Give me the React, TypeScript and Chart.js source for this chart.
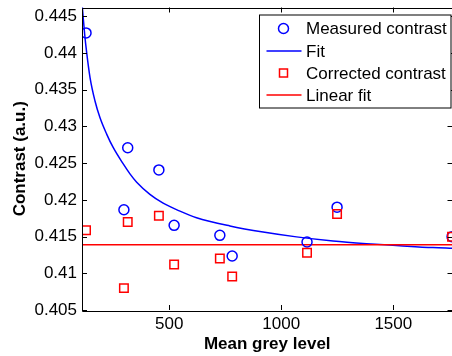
import React, { useEffect, useRef } from 'react';
import { Chart, registerables } from 'chart.js';

Chart.register(...registerables);

// ---- data ----
const pointX = [129, 298, 315, 454, 522, 726, 781, 1115, 1249, 1762];
const measuredY = [0.44274, 0.41865, 0.4271, 0.42408, 0.41653, 0.41517, 0.41236, 0.41426, 0.41901, 0.41499];
const correctedY = [0.41585, 0.40798, 0.41697, 0.41784, 0.4112, 0.41201, 0.40957, 0.41279, 0.41806, 0.41499];

const fitX = [112, 123, 132, 147, 169, 191, 221, 250, 295, 325, 355, 414, 473, 548, 622, 771, 919, 1068, 1231, 1380, 1528, 1677, 1764];
const fitY = [0.4464, 0.44252, 0.44002, 0.43663, 0.43347, 0.43121, 0.42896, 0.42714, 0.42489, 0.42354, 0.4224, 0.42075, 0.41955, 0.41846, 0.41757, 0.41645, 0.41562, 0.41496, 0.4144, 0.41404, 0.41376, 0.4135, 0.4134];

const linearX = [111, 1764];
const linearY = [0.41388, 0.41388];

const xTicks = [500, 1000, 1500];
const yTicks = [0.405, 0.41, 0.415, 0.42, 0.425, 0.43, 0.435, 0.44, 0.445];

const X_MIN = 111;
const X_MAX = 1764;
const Y_MIN = 0.405;
const Y_MAX = 0.4462;

const labels = ['Measured contrast', 'Fit', 'Corrected contrast', 'Linear fit'];

const FONT = "'Liberation Sans', Arial, Helvetica, sans-serif";

const zip = (xs: number[], ys: number[]) => xs.map((x, i) => ({ x, y: ys[i] }));

const frameTicksPlugin = {
  id: 'frameTicks',
  afterDatasetsDraw(chart: any) {
    const { ctx, chartArea, scales } = chart;
    const { left, right, top, bottom } = chartArea;
    const L = 5;
    ctx.save();
    ctx.strokeStyle = '#000';
    ctx.lineWidth = 1;
    ctx.beginPath();
    ctx.rect(Math.round(left) + 0.5, Math.round(top) + 0.5, Math.round(right - left), Math.round(bottom - top));
    ctx.stroke();
    ctx.beginPath();
    for (const v of xTicks) {
      const px = Math.round(scales.x.getPixelForValue(v)) + 0.5;
      ctx.moveTo(px, bottom);
      ctx.lineTo(px, bottom - L);
      ctx.moveTo(px, top);
      ctx.lineTo(px, top + L);
    }
    for (const v of yTicks) {
      const py = Math.round(scales.y.getPixelForValue(v)) + 0.5;
      ctx.moveTo(left, py);
      ctx.lineTo(left + L, py);
      ctx.moveTo(right, py);
      ctx.lineTo(right - L, py);
    }
    ctx.stroke();
    ctx.restore();
  },
};

const boxLegendPlugin = {
  id: 'boxLegend',
  afterDraw(chart: any) {
    const { ctx, chartArea } = chart;
    const bx1 = chartArea.right - 1.5;
    const bx0 = 259.5;
    const by0 = chartArea.top + 7.5;
    const by1 = by0 + 93;
    ctx.save();
    ctx.fillStyle = '#fff';
    ctx.fillRect(bx0, by0, bx1 - bx0, by1 - by0);
    ctx.strokeStyle = '#000';
    ctx.lineWidth = 1;
    ctx.strokeRect(bx0, by0, bx1 - bx0, by1 - by0);
    const rowY = [by0 + 13.5, by0 + 36, by0 + 58, by0 + 80];
    const lx0 = 266.5;
    const lx1 = 301.5;
    const mx = 283.5;
    chart.data.datasets.forEach((ds: any, i: number) => {
      const y = rowY[i];
      ctx.strokeStyle = ds.borderColor;
      ctx.lineWidth = 1.5;
      if (ds.showLine) {
        ctx.beginPath();
        ctx.moveTo(lx0, y);
        ctx.lineTo(lx1, y);
        ctx.stroke();
      } else if (ds.pointStyle === 'rect') {
        ctx.strokeRect(mx - 4, y - 4, 8, 8);
      } else {
        ctx.beginPath();
        ctx.arc(mx, y, 5, 0, Math.PI * 2);
        ctx.stroke();
      }
      ctx.fillStyle = '#000';
      ctx.font = `17px ${FONT}`;
      ctx.textBaseline = 'middle';
      ctx.textAlign = 'left';
      ctx.fillText(ds.label, 306, y + 1);
    });
    ctx.restore();
  },
};

export default function App() {
  const canvasRef = useRef<HTMLCanvasElement | null>(null);

  useEffect(() => {
    document.body.style.margin = '0';
    document.body.style.overflow = 'hidden';
    const canvas = canvasRef.current;
    if (!canvas) return;
    Chart.defaults.color = '#000';
    Chart.defaults.font.family = FONT;

    const chart = new Chart(canvas, {
      type: 'scatter',
      data: {
        datasets: [
          {
            label: labels[0],
            data: zip(pointX, measuredY),
            showLine: false,
            pointStyle: 'circle',
            pointRadius: 5,
            pointBorderWidth: 1.5,
            borderColor: '#0000ff',
            backgroundColor: 'rgba(0,0,0,0)',
            order: 1,
          },
          {
            label: labels[1],
            data: zip(fitX, fitY),
            showLine: true,
            pointRadius: 0,
            borderWidth: 1.5,
            borderColor: '#0000ff',
            backgroundColor: 'rgba(0,0,0,0)',
            cubicInterpolationMode: 'monotone',
            order: 3,
          },
          {
            label: labels[2],
            data: zip(pointX, correctedY),
            showLine: false,
            pointStyle: 'rect',
            pointRadius: 6,
            pointBorderWidth: 1.5,
            borderColor: '#ff0000',
            backgroundColor: 'rgba(0,0,0,0)',
            order: 0,
          },
          {
            label: labels[3],
            data: zip(linearX, linearY),
            showLine: true,
            pointRadius: 0,
            borderWidth: 1.5,
            borderColor: '#ff0000',
            backgroundColor: 'rgba(0,0,0,0)',
            order: 2,
          },
        ],
      } as any,
      options: {
        animation: false,
        responsive: false,
        events: [],
        layout: { padding: { top: 6, right: 7, left: 0, bottom: 0 } },
        plugins: {
          legend: { display: false },
          tooltip: { enabled: false },
        },
        scales: {
          x: {
            type: 'linear',
            min: X_MIN,
            max: X_MAX,
            grid: { display: false, drawTicks: false },
            border: { display: false },
            afterBuildTicks: (s: any) => {
              s.ticks = xTicks.map((v) => ({ value: v }));
            },
            afterFit: (s: any) => {
              s.height = 46;
              s.paddingLeft = 0;
              s.paddingRight = 0;
            },
            ticks: {
              padding: 4,
              maxRotation: 0,
              font: { size: 17, family: FONT },
              color: '#000',
              callback: (v: any) => String(v),
            },
            title: {
              display: true,
              text: 'Mean grey level',
              color: '#000',
              font: { size: 17, weight: 'bold', family: FONT },
              padding: { top: 0, bottom: 1 },
            },
          },
          y: {
            type: 'linear',
            min: Y_MIN,
            max: Y_MAX,
            grid: { display: false, drawTicks: false },
            border: { display: false },
            afterBuildTicks: (s: any) => {
              s.ticks = yTicks.map((v) => ({ value: v }));
            },
            afterFit: (s: any) => {
              s.width = 82;
              s.paddingTop = 0;
              s.paddingBottom = 0;
            },
            ticks: {
              padding: 5,
              font: { size: 17, family: FONT },
              color: '#000',
              callback: (v: any) => String(Number(Number(v).toFixed(3))),
            },
            title: {
              display: true,
              text: 'Contrast (a.u.)',
              color: '#000',
              font: { size: 17, weight: 'bold', family: FONT },
              padding: { top: 10, bottom: 0 },
            },
          },
        },
      } as any,
      plugins: [frameTicksPlugin, boxLegendPlugin],
    });
    return () => chart.destroy();
  }, []);

  return (
    <div style={{ width: 452, height: 356, overflow: 'hidden', position: 'relative' }}>
      <canvas ref={canvasRef} width={460} height={356} style={{ display: 'block', width: 460, height: 356 }} />
    </div>
  );
}
